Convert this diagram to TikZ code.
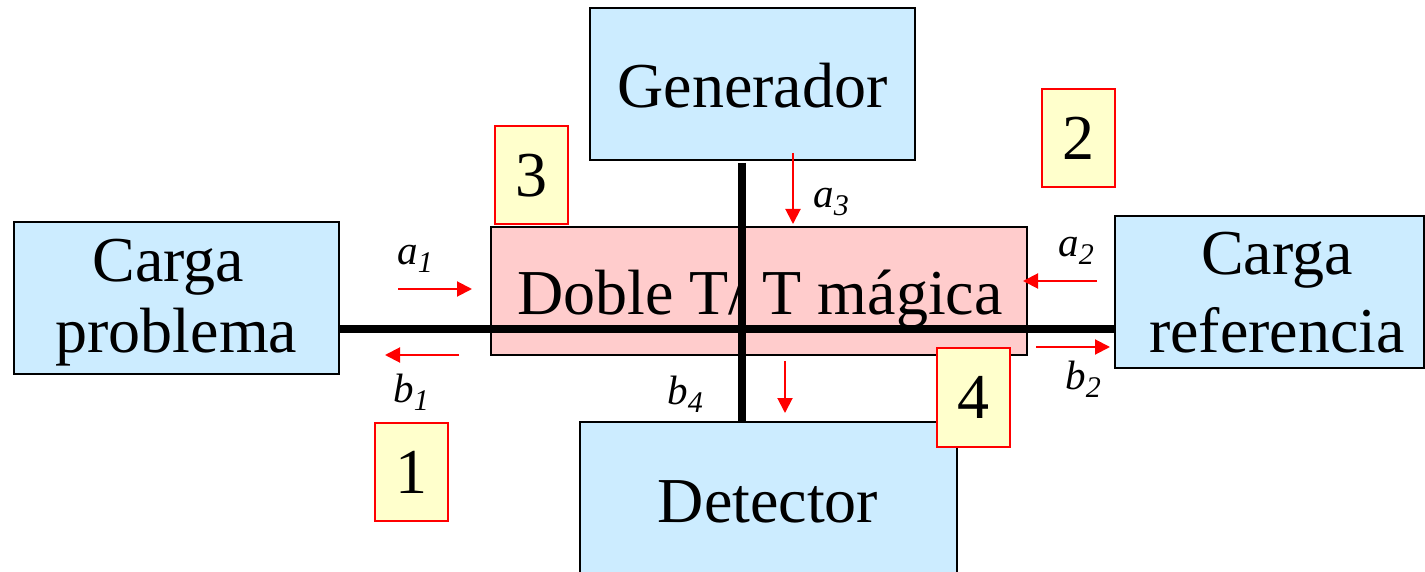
\documentclass[tikz,border=0pt]{standalone}
\usepackage{fontspec}
\setmainfont{Liberation Serif}
\usetikzlibrary{arrows.meta}
\definecolor{boxblue}{HTML}{CCECFF}
\definecolor{boxpink}{HTML}{FFCCCC}
\definecolor{boxyellow}{HTML}{FFFFCC}
\definecolor{arrred}{HTML}{FF0000}
\newcommand\lbl[2]{{\fontsize{20.5}{20.5}\selectfont\itshape #1\raisebox{-4pt}{\fontsize{15}{15}\selectfont #2}}}
\tikzset{
  bluebox/.style={draw=black, line width=0.75pt, fill=boxblue, inner sep=0pt, outer sep=0pt},
  pinkbox/.style={draw=black, line width=0.75pt, fill=boxpink, inner sep=0pt, outer sep=0pt},
  bigtext/.style={font=\fontsize{32}{32}\selectfont, inner sep=0pt, anchor=base},
  numbox/.style={draw=arrred, line width=1pt, fill=boxyellow, inner sep=0pt, outer sep=0pt,
    minimum width=36.5pt, minimum height=49pt, font=\fontsize{32}{32}\selectfont},
  lab/.style={inner sep=0pt, anchor=base west},
  wg/.style={draw=black, line width=3.7pt},
  sig/.style={draw=arrred, line width=1pt, -{Triangle[length=7.5pt,width=7.5pt]}},
}
\begin{document}
\begin{tikzpicture}[x=0.5pt,y=-0.5pt]
\clip (0,0) rectangle (1425,572);
\useasboundingbox (0,0) rectangle (1425,572);
% boxes
\node[bluebox, minimum width=162.5pt, minimum height=76pt] (gen) at (752.5,84) {};
\node[bigtext] (gent) at (752.5,108) {Generador};
\node[bluebox, minimum width=162.5pt, minimum height=76pt] (cp) at (176.5,298) {};
\node[bigtext] (cpt1) at (176.5,282) {Carga\rule{0.25em}{0pt}};
\node[bigtext] (cpt2) at (176.5,352) {problema};
\node[bluebox, minimum width=154.5pt, minimum height=76pt] (cr) at (1269.5,292) {};
\node[bigtext] (crt1) at (1285,275) {Carga\rule{0.25em}{0pt}};
\node[bigtext] (crt2) at (1277,352) {referencia};
\node[bluebox, minimum width=188.5pt, minimum height=76pt] (det) at (768.5,498) {};
\node[bigtext] (dett) at (768,522) {Detector};
\node[pinkbox, minimum width=268pt, minimum height=64pt] (tee) at (759,291) {};
\node[bigtext] (teet) at (760,315) {Doble T/ T mágica};
% waveguide lines
\coordinate (hy) at (0,329);
\coordinate (vx) at (742,0);
\coordinate (vtop) at (742,163);
\draw[wg] (hy -| cp.east) -- (hy -| cr.west);
\draw[wg] (vtop) -- (det.north -| vx);
% signal arrows
\coordinate (a1s) at (398,289); \coordinate (a1e) at (472,289);
\coordinate (b1s) at (459,355); \coordinate (b1e) at (385,355);
\coordinate (a3s) at (793,153); \coordinate (a3e) at (793,224);
\coordinate (a2s) at (1097,281); \coordinate (a2e) at (1023,281);
\coordinate (b2s) at (1036,347); \coordinate (b2e) at (1110,347);
\coordinate (b4s) at (785,361); \coordinate (b4e) at (785,413);
\draw[sig] (a1s) -- (a1e);
\draw[sig] (b1s) -- (b1e);
\draw[sig] (a3s) -- (a3e);
\draw[sig] (a2s) -- (a2e);
\draw[sig] (b2s) -- (b2e);
\draw[sig] (b4s) -- (b4e);
% labels
\node[lab] (la1) at (397,265) {\lbl{a}{1}};
\node[lab] (lb1) at (393,402) {\lbl{b}{1}};
\node[lab] (la3) at (813,208) {\lbl{a}{3}};
\node[lab] (la2) at (1058,257) {\lbl{a}{2}};
\node[lab] (lb2) at (1065,390) {\lbl{b}{2}};
\node[lab] (lb4) at (667,405) {\lbl{b}{4}};
% port numbers
\node[numbox] (p3) at (531,175.5) {3};
\node[numbox] (p2) at (1078,138) {2};
\node[numbox] (p4) at (973.5,397.5) {4};
\node[numbox] (p1) at (411,472) {1};
\end{tikzpicture}
\end{document}
